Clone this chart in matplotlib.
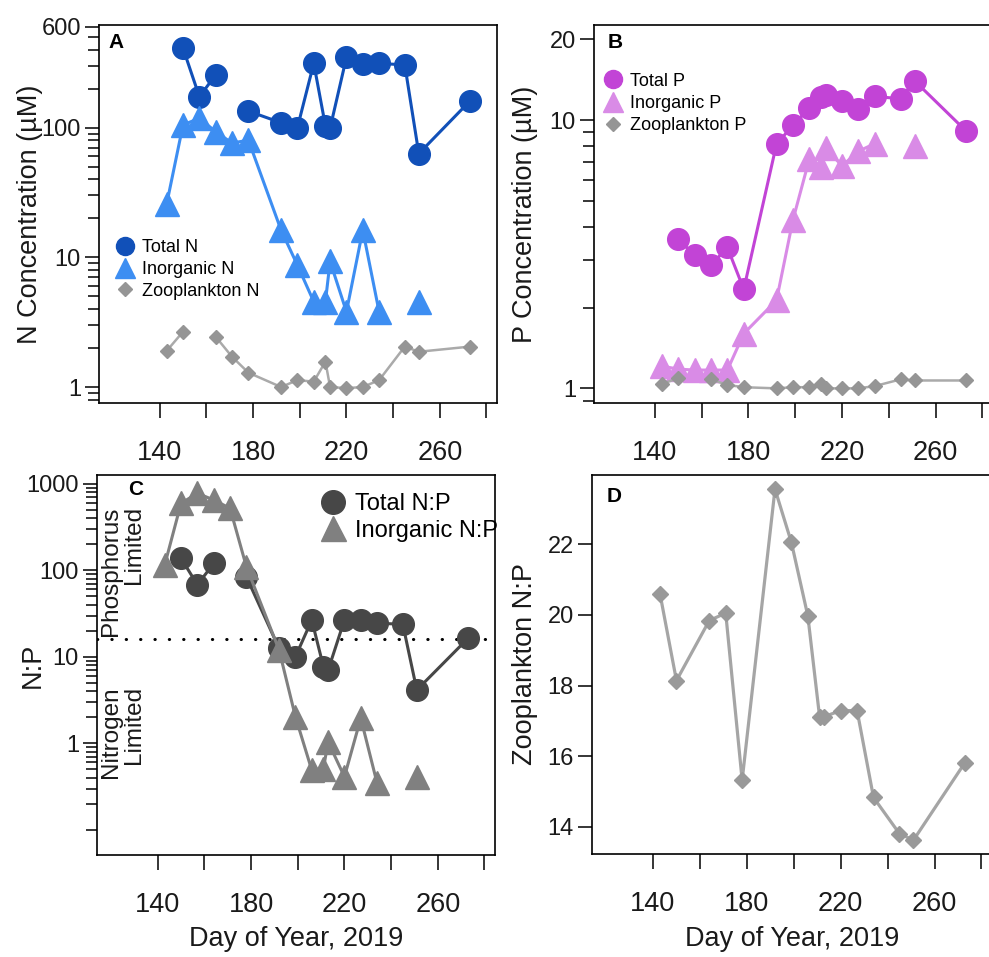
import numpy as np
import matplotlib.pyplot as plt
from matplotlib.lines import Line2D
from matplotlib.ticker import FixedLocator, FixedFormatter, NullFormatter

plt.rcParams['font.family'] = ['Liberation Sans', 'DejaVu Sans']

nan = np.nan

# sampling days (day of year, 2019)
days = [143, 150, 157, 164, 171, 178, 192, 199, 206, 211, 213, 220, 227, 234, 245, 251, 273]

# A: nitrogen (uM)
total_n = [nan, 409, 173, 255, nan, 134, 109, 100, 313, 103, 99, 348, 309, 313, 304, 63, 161]
inorg_n = [25.8, 105, 118, 93, 76, 80, 16.2, 8.7, 4.55, 4.55, 9.3, 3.8, 16.2, 3.8, nan, 4.55, nan]
zoo_n = [1.9, 2.67, nan, 2.44, 1.71, 1.29, 1.0, 1.13, 1.1, 1.57, 1.0, 0.98, 1.0, 1.13, 2.05, 1.87, 2.05]

# B: phosphorus (uM)
total_p = [nan, 3.59, 3.14, 2.88, 3.35, 2.34, 8.14, 9.55, 11.1, 12.2, 12.4, 11.8, 10.95, 12.25, 12.0, 14.0, 9.1]
inorg_p = [1.21, 1.18, 1.17, 1.17, 1.17, 1.6, 2.13, 4.24, 7.15, 6.7, 7.84, 6.75, 7.65, 8.17, nan, 8.0, nan]
zoo_p = [1.04, 1.09, nan, 1.08, 1.03, 1.01, 1.0, 1.01, 1.01, 1.04, 1.0, 1.0, 1.0, 1.02, 1.08, 1.07, 1.07]

# C: N:P ratios
total_np = [nan, 138, 68, 120, nan, 84, 12.5, 10, 26.6, 7.7, 7.0, 26.6, 26.6, 24.4, 23.8, 4.13, 16.4]
inorg_np = [115, 595, 777, 650, 521, 110, 12, 2.03, 0.49, 0.51, 1.04, 0.41, 1.95, 0.345, nan, 0.41, nan]
redfield = 16

# D: zooplankton N:P
zoo_np = [20.59, 18.14, nan, 19.84, 20.05, 15.32, 23.56, 22.05, 19.97, 17.12, 17.12, 17.29, 17.29,
          14.83, 13.81, 13.62, 15.82]

x_major = [140, 180, 220, 260]
x_minor = [160, 200, 240, 280]

# colours
c_tn, c_in, c_zoo, c_zoo_line = '#1150b8', '#3d8ef2', '#959595', '#aaaaaa'
c_tp, c_ip = '#c244d6', '#d98be6'
c_tnp, c_inp = '#474747', '#808080'
txt = '#1a1a1a'

W, H = 989, 957
fig = plt.figure(figsize=(W / 100, H / 100), dpi=100)


def px_axes(l, t, r, b):
    return fig.add_axes([l / W, 1 - b / H, (r - l) / W, (b - t) / H])


def style(ax):
    ax.set_xlim(114, 284.5)
    ax.xaxis.set_major_locator(FixedLocator(x_major))
    ax.xaxis.set_minor_locator(FixedLocator(x_minor))
    ax.tick_params(axis='x', which='both', direction='out', length=10.8, width=1.1,
                   pad=15.5, labelsize=19.5, labelcolor=txt)
    ax.tick_params(axis='y', which='major', direction='out', length=10, width=1.1,
                   pad=3, labelsize=17, labelcolor=txt)
    ax.tick_params(axis='y', which='minor', direction='out', length=8, width=1.1)
    for s in ax.spines.values():
        s.set_linewidth(1.2)


def log_y(ax, lo, hi, majors, minors):
    ax.set_yscale('log')
    ax.set_ylim(lo, hi)
    ax.yaxis.set_major_locator(FixedLocator(majors))
    ax.yaxis.set_major_formatter(FixedFormatter([f'{m:g}' for m in majors]))
    ax.yaxis.set_minor_locator(FixedLocator(minors))
    ax.yaxis.set_minor_formatter(NullFormatter())


def proxy(marker, color, ms):
    return Line2D([], [], ls='none', marker=marker, ms=ms, color=color, mec=color)


ax_a = px_axes(99, 25, 497, 403)
ax_b = px_axes(594, 25, 993, 403)
ax_c = px_axes(97, 475, 495, 855)
ax_d = px_axes(592, 475, 992, 854)

# ---- A
ax_a.plot(days, total_n, '-o', color=c_tn, lw=2.2, ms=15.6)
ax_a.plot(days, inorg_n, '-^', color=c_in, lw=2.2, ms=16.6)
ax_a.plot(days, zoo_n, '-D', color=c_zoo_line, lw=1.8, ms=7.6, mfc=c_zoo, mec=c_zoo)
style(ax_a)
log_y(ax_a, 0.753, 618, [1, 10, 100, 600],
      [0.8, 0.9] + list(range(2, 10)) + list(range(20, 100, 10)) + [200, 300, 400, 500])
ax_a.set_ylabel('N Concentration (µM)', fontsize=19.5, color=txt)
ax_a.yaxis.set_label_coords(-0.141, 0.5)
ax_a.legend([proxy('o', c_tn, 13), proxy('^', c_in, 15), proxy('D', c_zoo, 6.7)],
            ['Total N', 'Inorganic N', 'Zooplankton N'],
            loc='upper left', bbox_to_anchor=(0.043, 0.433), frameon=False, fontsize=13,
            borderpad=0, borderaxespad=0, handlelength=1.0, handletextpad=0.44,
            labelspacing=0.26)
ax_a.text(0.023, 0.979, 'A', transform=ax_a.transAxes, fontsize=15, fontweight='bold',
          va='top', ha='left')

# ---- B
ax_b.plot(days, total_p, '-o', color=c_tp, lw=2.2, ms=15.6)
ax_b.plot(days, inorg_p, '-^', color=c_ip, lw=2.2, ms=16.6)
ax_b.plot(days, zoo_p, '-D', color=c_zoo_line, lw=1.8, ms=7.6, mfc=c_zoo, mec=c_zoo)
style(ax_b)
log_y(ax_b, 0.882, 22.6, [1, 10, 20], [0.9] + list(range(2, 10)))
ax_b.set_ylabel('P Concentration (µM)', fontsize=19.5, color=txt)
ax_b.yaxis.set_label_coords(-0.1405, 0.5)
ax_b.legend([proxy('o', c_tp, 13), proxy('^', c_ip, 15), proxy('D', c_zoo, 6.7)],
            ['Total P', 'Inorganic P', 'Zooplankton P'],
            loc='upper left', bbox_to_anchor=(0.026, 0.874), frameon=False, fontsize=13,
            borderpad=0, borderaxespad=0, handlelength=1.0, handletextpad=0.44,
            labelspacing=0.29)
ax_b.text(0.033, 0.979, 'B', transform=ax_b.transAxes, fontsize=15, fontweight='bold',
          va='top', ha='left')

# ---- C
ax_c.axhline(redfield, color='black', lw=2.2, ls=(0, (0.1, 4.6)), dash_capstyle='round')
ax_c.plot(days, total_np, '-o', color=c_tnp, lw=2.2, ms=15.6)
ax_c.plot(days, inorg_np, '-^', color=c_inp, lw=2.2, ms=17.5)
style(ax_c)
c_minor = [m * 10.0 ** k for k in range(-1, 3) for m in range(1, 10) if not (m == 1 and k >= 0)]
log_y(ax_c, 0.0511, 1264, [1, 10, 100, 1000], c_minor)
ax_c.set_ylabel('N:P', fontsize=19.5, color=txt)
ax_c.yaxis.set_label_coords(-0.128, 0.5)
ax_c.set_xlabel('Day of Year, 2019', fontsize=19.5, color=txt)
ax_c.xaxis.set_label_coords(0.5, -0.187)
ax_c.legend([proxy('o', c_tnp, 17), proxy('^', c_inp, 18)],
            ['Total N:P', 'Inorganic N:P'],
            loc='upper left', bbox_to_anchor=(0.564, 0.953), frameon=False, fontsize=17,
            borderpad=0, borderaxespad=0, handlelength=1.0, handletextpad=0.42,
            labelspacing=0.2)
ax_c.text(0.078, 0.988, 'C', transform=ax_c.transAxes, fontsize=15, fontweight='bold',
          va='top', ha='left')
ax_c.text(0.064, 0.918, 'Phosphorus\nLimited', transform=ax_c.transAxes, fontsize=17.5,
          rotation=90, ha='center', va='top', multialignment='right', color=txt,
          linespacing=1.1)
ax_c.text(0.064, 0.445, 'Nitrogen\nLimited', transform=ax_c.transAxes, fontsize=17.5,
          rotation=90, ha='center', va='top', multialignment='right', color=txt,
          linespacing=1.1)

# ---- D
d_days = [d for d, v in zip(days, zoo_np) if not np.isnan(v)]
d_vals = [v for v in zoo_np if not np.isnan(v)]
ax_d.plot(d_days, d_vals, '-D', color='#a5a5a5', lw=2.3, ms=8, mfc='#999999', mec='#999999')
style(ax_d)
ax_d.set_ylim(13.23, 23.96)
ax_d.set_yticks([14, 16, 18, 20, 22])
ax_d.set_ylabel('Zooplankton N:P', fontsize=19.5, color=txt)
ax_d.yaxis.set_label_coords(-0.135, 0.5)
ax_d.set_xlabel('Day of Year, 2019', fontsize=19.5, color=txt)
ax_d.xaxis.set_label_coords(0.5, -0.19)
ax_d.text(0.0375, 0.968, 'D', transform=ax_d.transAxes, fontsize=15, fontweight='bold',
          va='top', ha='left')

fig.savefig('out.png', dpi=100)
